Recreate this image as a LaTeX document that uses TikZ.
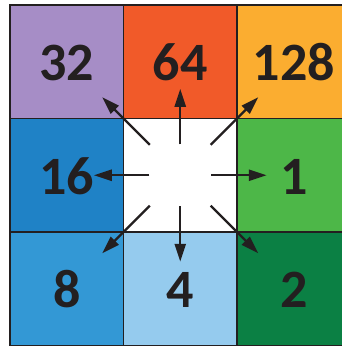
\documentclass[tikz,border=0pt]{standalone}
\usepackage{fontspec}
\setmainfont{Carlito}
\usetikzlibrary{positioning, arrows.meta, calc}

\definecolor{linec}{HTML}{231F20}
\definecolor{lilac}{HTML}{A68DC6}
\definecolor{redor}{HTML}{F15A29}
\definecolor{amber}{HTML}{FBAD30}
\definecolor{bluedk}{HTML}{1F82C6}
\definecolor{greenlt}{HTML}{4DB748}
\definecolor{bluemd}{HTML}{3398D5}
\definecolor{bluelt}{HTML}{95CBEE}
\definecolor{greendk}{HTML}{0B8044}

\tikzset{
    cell/.style={draw=linec, line width=1.4pt, minimum width=113.5pt, minimum height=113.5pt,
        inner sep=0pt, text=linec, text height=38pt, text depth=0pt,
        font=\fontsize{54}{54}\selectfont\bfseries},
    dirarrow/.style={draw=linec, line width=2.3pt, -{Triangle[length=18pt, width=11pt]}},
    straight/.style={dirarrow, shorten <=31pt, shorten >=27pt},
    diagonal/.style={dirarrow, shorten <=43pt, shorten >=50pt}
}

\begin{document}
\begin{tikzpicture}[x=1pt, y=-1pt]
    \useasboundingbox (0,0) rectangle (342,346);
    \fill[white] (0,0) rectangle (342,346);

    % the eight weighted neighbours and the centre
    \node[cell, fill=lilac]   (c32)  at (66.75, 61.75)  {32};
    \node[cell, fill=redor]   (c64)  at (180.25, 61.75) {64};
    \node[cell, fill=amber]   (c128) at (293.75, 61.75) {128};
    \node[cell, fill=bluedk]  (c16)  at (66.75, 175.25) {16};
    \node[cell, fill=white]   (ctr)  at (180.25, 175.25) {};
    \node[cell, fill=greenlt] (c1)   at (293.75, 175.25) {1};
    \node[cell, fill=bluemd]  (c8)   at (66.75, 288.75) {8};
    \node[cell, fill=bluelt]  (c4)   at (180.25, 288.75) {4};
    \node[cell, fill=greendk] (c2)   at (293.75, 288.75) {2};

    % arrows out of the centre
    \draw[straight] (ctr.center) -- (c64.center);
    \draw[straight] (ctr.center) -- (c16.center);
    \draw[straight] (ctr.center) -- (c1.center);
    \draw[straight] (ctr.center) -- (c4.center);
    \draw[diagonal] (ctr.center) -- (c32.center);
    \draw[diagonal] (ctr.center) -- (c128.center);
    \draw[diagonal] (ctr.center) -- (c8.center);
    \draw[diagonal] (ctr.center) -- (c2.center);
\end{tikzpicture}
\end{document}
